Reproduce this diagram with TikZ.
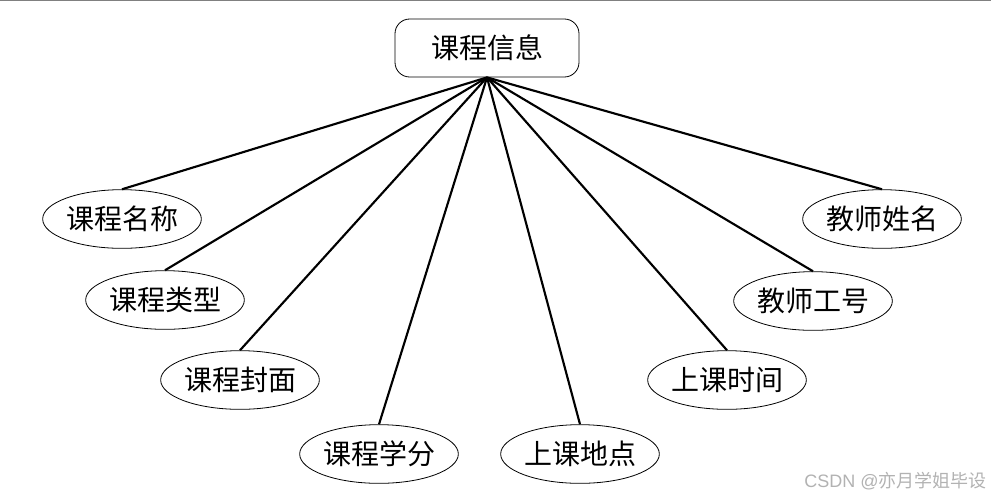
\documentclass[tikz,border=0pt]{standalone}
\usepackage{fontspec}
\newfontfamily\cjk{Noto Sans CJK SC}
\usetikzlibrary{shapes.geometric}
\begin{document}
\begin{tikzpicture}[x=0.75pt,y=-0.75pt,
  attr/.style={ellipse,draw,line width=0.6pt,minimum width=119pt,minimum height=44pt,inner sep=0pt,font=\cjk\fontsize{21}{24}\selectfont},
  entity/.style={rectangle,rounded corners=11pt,draw,line width=0.6pt,minimum width=138pt,minimum height=43.5pt,inner sep=0pt,font=\cjk\fontsize{21}{24}\selectfont},
  link/.style={line width=1.6pt}]
\useasboundingbox (0,0) rectangle (991,501);
\draw[gray,line width=1.2pt] (0,0.5) -- (991,0.5);
\node[entity] (root) at (487,48) {课程信息};
\node[attr] (a1) at (122,219) {课程名称};
\node[attr] (a2) at (165,300) {课程类型};
\node[attr] (a3) at (240,380) {课程封面};
\node[attr] (a4) at (379,454) {课程学分};
\node[attr] (a5) at (580,454) {上课地点};
\node[attr] (a6) at (727,380) {上课时间};
\node[attr] (a7) at (813,301) {教师工号};
\node[attr] (a8) at (882,219) {教师姓名};
\foreach \n in {a1,a2,a3,a4,a5,a6,a7,a8}
  \draw[link] (root.south) -- (\n.north);
\node[text=gray!60,font=\fontspec{Liberation Sans}\fontsize{13.5}{16}\selectfont,anchor=east,inner sep=0pt] (wm) at (987,481) {CSDN @{\cjk 亦月学姐毕设}};
\end{tikzpicture}
\end{document}
